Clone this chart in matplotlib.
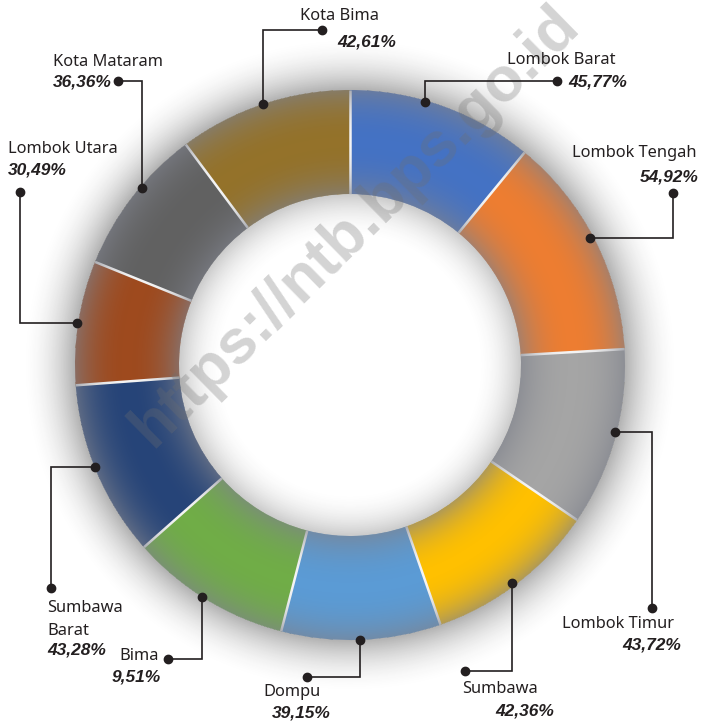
import numpy as np
import matplotlib
matplotlib.use("Agg")
import matplotlib.pyplot as plt
from matplotlib import font_manager

# ---------------- data ----------------
regions = ["Lombok Barat", "Lombok Tengah", "Lombok Timur", "Sumbawa", "Dompu",
           "Bima", "Sumbawa\nBarat", "Lombok Utara", "Kota Mataram", "Kota Bima"]
values = [45.77, 54.92, 43.72, 42.36, 39.15, 9.51, 43.28, 30.49, 36.36, 42.61]
value_labels = ["45,77%", "54,92%", "43,72%", "42,36%", "39,15%",
                "9,51%", "43,28%", "30,49%", "36,36%", "42,61%"]
# segment shares as drawn in the picture (Bima's segment is drawn as wide as ~39.5)
segment_sizes = [45.77, 54.92, 43.72, 42.36, 39.15, 39.51, 43.28, 30.49, 36.36, 42.61]
colors = ["#4472c4", "#ed7d31", "#a5a5a5", "#ffc000", "#5b9bd5",
          "#70ad47", "#264478", "#9e4a1e", "#616161", "#94722a"]

# ---------------- layout (pixels) ----------------
W, H = 703, 725
CX, CY, R, RIN = 350, 365, 275, 171

# name (x, cy of last line), value (x, cy), leader polyline
layout = [
    ((507, 60), (568, 82), [(425, 102), (425, 81), (557, 81)]),
    ((572, 153), (640, 177), [(590, 238), (673, 238), (673, 193)]),
    ((562, 624), (622, 645), [(615, 432), (652, 432), (652, 608)]),
    ((462, 689), (495, 711), [(512, 583), (512, 671), (465, 671)]),
    ((263, 692), (272, 713), [(360, 640), (360, 677), (307, 677)]),
    ((119, 656), (112, 677), [(202, 597), (202, 659), (168, 659)]),
    ((47, 631), (47, 650), [(95, 467), (51, 467), (51, 588)]),
    ((8, 149), (8, 170), [(77, 323), (20, 323), (20, 192)]),
    ((53, 62), (53, 82), [(142, 188), (142, 81), (118, 81)]),
    ((300, 16), (337, 42), [(263, 104), (263, 30), (322, 30)]),
]

avail = {f.name for f in font_manager.fontManager.ttflist}
name_font = "Noto Sans" if "Noto Sans" in avail else "DejaVu Sans"
val_font = "Liberation Sans Narrow" if "Liberation Sans Narrow" in avail else "Liberation Sans"

fig = plt.figure(figsize=(W / 100, H / 100), dpi=100)
ax = fig.add_axes([0, 0, 1, 1])

wedges, _ = ax.pie(segment_sizes, colors=colors, startangle=-90, counterclock=True,
                   radius=R, center=(CX, CY),
                   wedgeprops=dict(width=R - RIN, linewidth=0, zorder=1))

# white separators
for w in wedges:
    th = np.deg2rad(w.theta1)
    ax.plot([CX + RIN * np.cos(th), CX + R * np.cos(th)],
            [CY + RIN * np.sin(th), CY + R * np.sin(th)],
            color="#f4f4f4", lw=1.8, zorder=1.5, solid_capstyle="butt")

# shading overlay: outer shadow, ring glow, inner shadow
yy, xx = np.mgrid[0:H, 0:W] + 0.5
rr = np.hypot(xx - CX, yy - CY)
rgba = np.zeros((H, W, 4))
m_out = rr >= R
t = np.clip((rr - R) / 55.0, 0, 1)
rgba[..., :3] = 0.15
rgba[..., 3] = np.where(m_out, 0.36 * (1 - t) ** 2, 0)
m_ring = (rr >= RIN) & (rr < R)
t2 = np.abs(rr - (R + RIN) / 2) / ((R - RIN) / 2)
for c, v in enumerate([0.50, 0.51, 0.55]):
    rgba[..., c] = np.where(m_ring, v, rgba[..., c])
rgba[..., 3] = np.where(m_ring, 0.62 * np.clip(t2, 0, 1) ** 2.2, rgba[..., 3])
m_in = rr < RIN
t3 = np.clip((RIN - rr) / 45.0, 0, 1)
rgba[..., 3] = np.where(m_in, 0.26 * (1 - t3) ** 2, rgba[..., 3])
for c in range(3):
    rgba[..., c] = np.where(m_in, 0.2, rgba[..., c])
ax.imshow(rgba, extent=(0, W, H, 0), origin="upper", zorder=2, interpolation="nearest")

# watermark
ax.text(355, 226, "https://ntb.bps.go.id", rotation=44.5, rotation_mode="anchor",
        ha="center", va="center", fontsize=45, fontweight="bold",
        family="Liberation Sans", color="#6f6f6f", alpha=0.3, zorder=3)

# leaders and labels
ink = "#231f20"
for name, vlab, (npos, vpos, pts) in zip(regions, value_labels, layout):
    px = [p[0] for p in pts]
    py = [p[1] for p in pts]
    ax.plot(px, py, color=ink, lw=1.2, zorder=4, solid_joinstyle="miter")
    ax.plot([px[0], px[-1]], [py[0], py[-1]], "o", color=ink, ms=6, zorder=4)
    lines = name.split("\n")
    for k, ln in enumerate(lines):
        ax.text(npos[0], npos[1] - 23 * (len(lines) - 1 - k), ln, ha="left", va="center",
                fontsize=11.8, family=name_font, color=ink, zorder=4)
    ax.text(vpos[0], vpos[1], vlab, ha="left", va="center", fontsize=12.5,
            family=val_font, fontweight="bold", fontstyle="italic", color=ink, zorder=4)

ax.set_xlim(0, W)
ax.set_ylim(H, 0)
ax.set_aspect("auto")
ax.axis("off")
fig.savefig("out.png", dpi=100, facecolor="white")
